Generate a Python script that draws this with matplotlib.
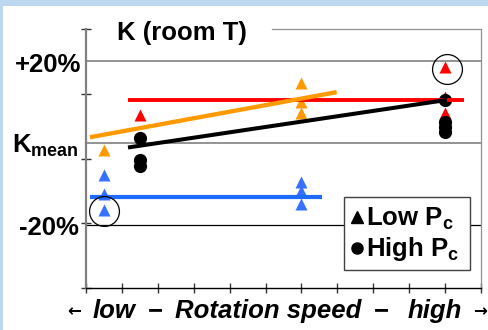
import matplotlib
matplotlib.use('Agg')
import matplotlib.pyplot as plt
import numpy as np
from matplotlib.patches import Rectangle
from matplotlib.lines import Line2D

plt.rcParams['font.family'] = ['Liberation Sans', 'DejaVu Sans']
plt.rcParams['font.weight'] = 'bold'
plt.rcParams['mathtext.fontset'] = 'custom'
plt.rcParams['mathtext.rm'] = 'Liberation Sans:bold'
plt.rcParams['mathtext.bf'] = 'Liberation Sans:bold'
plt.rcParams['mathtext.it'] = 'Liberation Sans:bold:italic'

# ---- data: deviation of K from K_mean (%) vs. rotation-speed position ----
orange_tri_x = [0.5, 6, 6, 6]
orange_tri_y = [-1.7, 14.6, 9.9, 7.2]
blue_tri_x = [0.5, 0.5, 0.5, 6, 6, 6]
blue_tri_y = [-7.8, -12.4, -16.3, -9.4, -11.7, -14.9]
red_tri_x = [1.5, 10, 10, 10]
red_tri_y = [6.8, 18.5, 11.2, 7.2]
black_dot_x = [1.5, 1.5, 1.5, 10, 10, 10, 10]
black_dot_y = [1.3, -4.2, -5.6, 10.5, 5.1, 3.9, 2.7]

red_line_x = [1.17, 10.54]
red_line_y = [10.56, 10.56]
orange_line_x = [0.11, 6.98]
orange_line_y = [1.4, 12.4]
black_line_x = [1.17, 10.05]
black_line_y = [-1.1, 10.5]
blue_line_x = [0.11, 6.57]
blue_line_y = [-13.1, -13.1]

circled_x = [0.5, 10.05]
circled_y = [-16.6, 18.0]

ref_levels = [20, 0, -20]
ref_colors = ['#808080', '#808080', '#000000']
title = 'K (room T)'
legend_labels = [r'Low P$_{\mathrm{c}}$', r'High P$_{\mathrm{c}}$']

W, H = 488, 330
fig = plt.figure(figsize=(W / 100, H / 100), dpi=100)
fig.patch.set_facecolor('#bdd7ee')
fig.patches.append(Rectangle((3 / W, 0), 1, 1 - 6 / H, transform=fig.transFigure,
                             facecolor='white', edgecolor='none', zorder=-5))

def fx(px):
    return px / W

def fy(py):
    return 1 - py / H

ax_l, ax_r, ax_t, ax_b = 86, 481, 29, 288
ax = fig.add_axes([fx(ax_l), fy(ax_b), fx(ax_r) - fx(ax_l), fy(ax_t) - fy(ax_b)])
ax.set_zorder(1)
ax.set_facecolor('white')
ymin, ymax = -35.37, 27.80
ax.set_xlim(0, 11)
ax.set_ylim(ymin, ymax)

for lvl, c in zip(ref_levels, ref_colors):
    ax.axhline(lvl, color=c, lw=1.2 if c != '#000000' else 0.9, zorder=1)

ms_tri = 9
ms_dot = 9.5
ax.plot(orange_tri_x, orange_tri_y, '^', color='#ff9900', ms=ms_tri, mec='none', zorder=3)
ax.plot(blue_tri_x, blue_tri_y, '^', color='#3670ff', ms=ms_tri, mec='none', zorder=3)
ax.plot(red_tri_x, red_tri_y, '^', color='#ff0000', ms=ms_tri, mec='none', zorder=3)
ax.plot(black_dot_x, black_dot_y, 'o', color='black', ms=ms_dot, mec='none', zorder=3)

ax.plot(red_line_x, red_line_y, color='#ff0000', lw=2.8, zorder=4, solid_capstyle='butt')
ax.plot(orange_line_x, orange_line_y, color='#ff9900', lw=3.1, zorder=4, solid_capstyle='butt')
ax.plot(black_line_x, black_line_y, color='black', lw=2.9, zorder=4, solid_capstyle='butt')
ax.plot(blue_line_x, blue_line_y, color='#1e6bff', lw=3.0, zorder=4, solid_capstyle='butt')

ax.plot(circled_x, circled_y, 'o', ms=21.5, mfc='none', mec='black', mew=0.9, zorder=5)

ax.set_xticks(np.arange(0, 12))
ax.set_yticks(np.linspace(ymin, ymax, 5))
ax.set_xticklabels([])
ax.set_yticklabels([])
ax.tick_params(direction='inout', length=7, width=1, colors='#333333')
ax.spines['left'].set_color('#808080')
ax.spines['left'].set_linewidth(1.6)
ax.spines['bottom'].set_color('black')
ax.spines['bottom'].set_linewidth(1.0)
ax.spines['right'].set_color('#909090')
ax.spines['right'].set_linewidth(0.9)
ax.spines['top'].set_color('#909090')
ax.spines['top'].set_linewidth(0.9)
ax.spines['top'].set_bounds((272 - ax_l) / ((ax_r - ax_l) / 11), 11)

# title
fig.text(fx(182), fy(40), title, fontsize=18.5, fontweight='bold', ha='center', va='baseline', zorder=6)

# y labels
fig.text(fx(81), fy(72), '+20%', fontsize=18.5, ha='right', va='baseline')
fig.text(fx(79), fy(235), '-20%', fontsize=18.5, ha='right', va='baseline')
fig.text(fx(12), fy(153), r'K$_{\mathrm{mean}}$', fontsize=18.5, ha='left', va='baseline')

# x label pieces
base = fy(318)
fig.text(fx(74), base + 0.005, '←', fontsize=12, family=['DejaVu Sans'], ha='center', va='baseline')
fig.text(fx(93), base, 'low', fontsize=18.5, style='italic', ha='left', va='baseline')
fig.text(fx(155), base, '\u2212', fontsize=18.5, ha='center', va='baseline')
fig.text(fx(175), base, 'Rotation speed', fontsize=18.5, style='italic', ha='left', va='baseline')
fig.text(fx(381), base, '\u2212', fontsize=18.5, ha='center', va='baseline')
fig.text(fx(408), base, 'high', fontsize=18.5, style='italic', ha='left', va='baseline')
fig.text(fx(480), base + 0.005, '→', fontsize=12, family=['DejaVu Sans'], ha='center', va='baseline')

# legend box
lx0, lx1, ly0, ly1 = 344, 470, 197, 270
fig.patches.append(Rectangle((fx(lx0), fy(ly1)), fx(lx1) - fx(lx0), fy(ly0) - fy(ly1),
                             transform=fig.transFigure, facecolor='white',
                             edgecolor='#404040', lw=1.0, zorder=10))
fig.lines.append(Line2D([fx(357)], [fy(217)], marker='^', color='black', ms=8,
                        transform=fig.transFigure, zorder=11))
fig.lines.append(Line2D([fx(357)], [fy(248)], marker='o', color='black', ms=8,
                        transform=fig.transFigure, zorder=11))
fig.text(fx(366), fy(226), legend_labels[0], fontsize=18.5, ha='left', va='baseline', zorder=12)
fig.text(fx(366), fy(256), legend_labels[1], fontsize=18.5, ha='left', va='baseline', zorder=12)

fig.savefig('out.png', dpi=100)
